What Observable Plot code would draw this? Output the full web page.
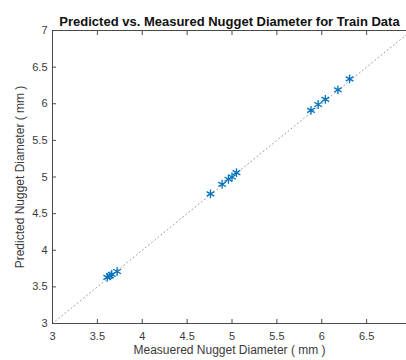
<!DOCTYPE html>
<html>
<head>
<meta charset="utf-8">
<script src="https://cdn.jsdelivr.net/npm/d3@7"></script>
<script src="https://cdn.jsdelivr.net/npm/@observablehq/plot@0.6"></script>
<style>
  html, body { margin: 0; padding: 0; background: #fff; }
  svg { display: block; }
</style>
</head>
<body>
<div id="chart"></div>
<script>
const measured  = [3.61, 3.64, 3.66, 3.72, 4.76, 4.89, 4.96, 5.00, 5.05, 5.88, 5.96, 6.04, 6.18, 6.31];
const predicted = [3.63, 3.65, 3.67, 3.71, 4.77, 4.90, 4.97, 5.00, 5.06, 5.91, 5.99, 6.06, 6.19, 6.34];
const refLine = [3, 7];
const xTicks = [3, 3.5, 4, 4.5, 5, 5.5, 6, 6.5];
const yTicks = [3, 3.5, 4, 4.5, 5, 5.5, 6, 6.5, 7];
const title = "Predicted vs. Measured Nugget Diameter for Train Data";
const xLabel = "Measuered Nugget Diameter ( mm )";
const yLabel = "Predicted Nugget Diameter ( mm )";

const points = measured.map((m, i) => ({m, p: predicted[i]}));
const diag = refLine.map(v => ({m: v, p: v}));

const axisColor = "#4a4a4a";
const textColor = "#3a3a3a";
const font = "Liberation Sans, Arial, Helvetica, sans-serif";
const fmt = d => String(d);

const chart = Plot.plot({
  width: 406,
  height: 360,
  marginTop: 30,
  marginBottom: 37,
  marginLeft: 52,
  marginRight: 0,
  style: {fontFamily: font, fontSize: "11px", color: textColor, background: "#fff"},
  x: {domain: [3, 7], range: [52, 411], label: null},
  y: {domain: [3, 7], range: [323, 30], label: null},
  marks: [
    Plot.line(diag, {x: "m", y: "p", stroke: "#9a9a9a", strokeWidth: 1, strokeDasharray: "1,3"}),
    Plot.dot(points, {x: "m", y: "p", symbol: "asterisk", r: 4.2, stroke: "#0072BD", strokeWidth: 1.3}),
    // box
    Plot.ruleY([3], {stroke: axisColor}),
    Plot.ruleY([7], {stroke: axisColor}),
    Plot.ruleX([3], {stroke: axisColor}),
    Plot.ruleX([7], {stroke: axisColor}),
    // inward ticks
    Plot.axisX(xTicks, {anchor: "bottom", tickSize: -4, text: null, label: null, stroke: axisColor}),
    Plot.axisX(xTicks, {anchor: "top", tickSize: -4, text: null, label: null, stroke: axisColor}),
    Plot.axisY(yTicks, {anchor: "left", tickSize: -4, text: null, label: null, stroke: axisColor}),
    // tick labels
    Plot.axisX(xTicks, {anchor: "bottom", tickSize: 0, tickPadding: 9, label: null, tickFormat: fmt, fill: textColor, fontSize: 11}),
    Plot.axisY(yTicks, {anchor: "left", tickSize: 0, tickPadding: 5, label: null, tickFormat: fmt, fill: textColor, fontSize: 11}),
    Plot.text([xLabel], {frameAnchor: "bottom", dy: 30, fontSize: 12, fill: textColor}),
    Plot.text([yLabel], {frameAnchor: "left", dx: -32, rotate: -90, textAnchor: "middle", fontSize: 12, fill: textColor}),
    Plot.text([title], {frameAnchor: "top", dy: -14, fontSize: 13, fontWeight: "bold", fill: "#111"})
  ]
});
document.getElementById("chart").appendChild(chart);
</script>
</body>
</html>
